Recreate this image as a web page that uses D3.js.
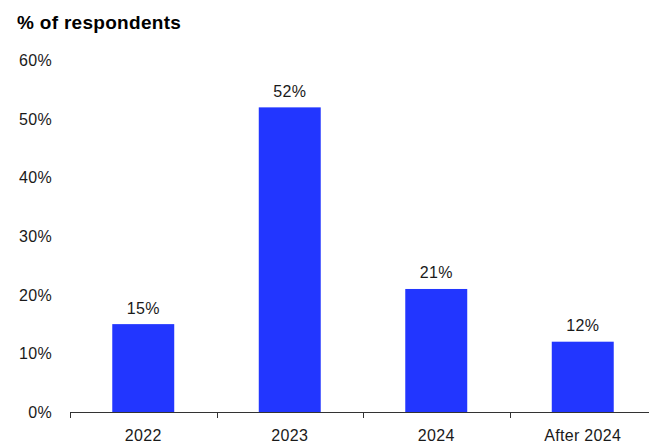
<!DOCTYPE html>
<html>
<head>
<meta charset="utf-8">
<script src="https://cdn.jsdelivr.net/npm/d3@7"></script>
<style>
  html, body { margin: 0; padding: 0; background: #ffffff; }
  svg { display: block; }
  text { font-family: "Liberation Sans", Arial, sans-serif; fill: #1a1a1a; }
</style>
</head>
<body>
<svg id="chart" width="649" height="443"></svg>
<script>
// Survey answers: share of respondents per expected year
const categories = ["2022", "2023", "2024", "After 2024"];
const values = [15, 52, 21, 12];
const yTicks = [0, 10, 20, 30, 40, 50, 60];
const subtitle = "% of respondents";

const svg = d3.select("#chart");
const W = 649, H = 443;

const x = d3.scaleBand()
  .domain(categories)
  .range([70, 656])
  .paddingInner(0.577)
  .paddingOuter(0.2885);

const y = d3.scaleLinear().domain([0, 60]).range([412, 60.5]);

// Subtitle
svg.append("text")
  .attr("x", 17)
  .attr("y", 29)
  .attr("font-size", 19)
  .attr("font-weight", "bold")
  .attr("letter-spacing", 0.3)
  .style("fill", "#000")
  .text(subtitle);

// Y tick labels (no axis line)
svg.append("g")
  .selectAll("text")
  .data(yTicks)
  .join("text")
  .attr("x", 52)
  .attr("y", d => y(d))
  .attr("dy", "0.36em")
  .attr("text-anchor", "end")
  .attr("font-size", 16)
  .attr("letter-spacing", 0.3)
  .text(d => d + "%");

// Bars
svg.append("g")
  .selectAll("rect")
  .data(values)
  .join("rect")
  .attr("x", (d, i) => x(categories[i]))
  .attr("y", d => y(d))
  .attr("width", x.bandwidth())
  .attr("height", d => y(0) - y(d))
  .attr("fill", "#2236ff");

// Value labels
svg.append("g")
  .selectAll("text")
  .data(values)
  .join("text")
  .attr("x", (d, i) => x(categories[i]) + x.bandwidth() / 2)
  .attr("y", d => y(d) - 10.5)
  .attr("text-anchor", "middle")
  .attr("font-size", 16)
  .attr("letter-spacing", 0.3)
  .text(d => d + "%");

// X axis: baseline, ticks at band boundaries, category labels
const axis = svg.append("g");
axis.append("line")
  .attr("x1", x.range()[0]).attr("x2", W)
  .attr("y1", y(0) + 0.5).attr("y2", y(0) + 0.5)
  .attr("stroke", "#333").attr("stroke-width", 1);

const step = x.step();
const boundaries = categories.map((c, i) => x.range()[0] + i * step);
axis.selectAll("line.tick")
  .data(boundaries)
  .join("line")
  .attr("class", "tick")
  .attr("x1", d => Math.round(d) + 0.5).attr("x2", d => Math.round(d) + 0.5)
  .attr("y1", y(0)).attr("y2", y(0) + 6)
  .attr("stroke", "#333").attr("stroke-width", 1);

axis.selectAll("text")
  .data(categories)
  .join("text")
  .attr("x", d => x(d) + x.bandwidth() / 2)
  .attr("y", 440.5)
  .attr("text-anchor", "middle")
  .attr("font-size", 16)
  .attr("letter-spacing", 0.3)
  .text(d => d);
</script>
</body>
</html>
